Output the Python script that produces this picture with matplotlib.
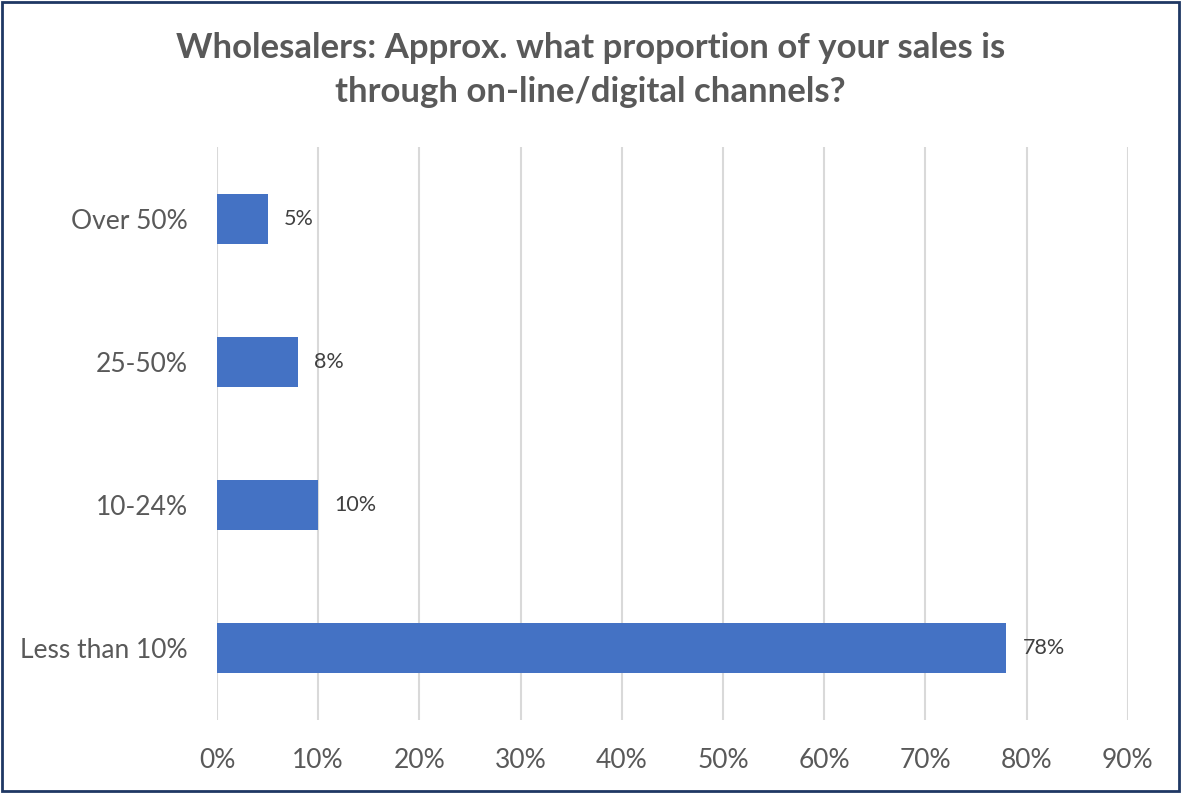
import matplotlib
matplotlib.use('Agg')
import matplotlib.pyplot as plt
from matplotlib.patches import Rectangle

# survey answers, bottom to top
categories = ['Less than 10%', '10-24%', '25-50%', 'Over 50%']
shares = [78, 10, 8, 5]
xticks = [0, 10, 20, 30, 40, 50, 60, 70, 80, 90]

plt.rcParams['font.family'] = ['Lato', 'DejaVu Sans']

fig = plt.figure(figsize=(11.81, 7.93), dpi=100)
ax = fig.add_axes([0.1837, 0.092, 0.7713, 0.7224])

ax.barh(range(len(categories)), shares, height=0.35, color='#4472C4', zorder=3)
for i, v in enumerate(shares):
    ax.text(v + 1.6, i, f'{v}%', va='center', ha='left', fontsize=15.5, color='#404040')

ax.set_xlim(0, 90)
ax.set_ylim(-0.5, len(categories) - 0.5)
ax.set_xticks(xticks)
ax.set_xticklabels([f'{t}%' for t in xticks])
ax.set_yticks(range(len(categories)))
ax.set_yticklabels(categories)
ax.tick_params(axis='x', length=0, pad=20, labelsize=19, labelcolor='#595959')
ax.tick_params(axis='y', length=0, pad=21, labelsize=19, labelcolor='#595959')
ax.xaxis.grid(True, color='#D9D9D9', linewidth=1.5, zorder=0)
for s in ax.spines.values():
    s.set_visible(False)

fig.text(0.5, 0.912, 'Wholesalers: Approx. what proportion of your sales is\nthrough on-line/digital channels?',
         ha='center', va='center', fontsize=25, fontweight='bold', color='#595959', linespacing=1.45)

# frame around the whole chart
fig.patches.append(Rectangle((0.002, 0.002), 0.996, 0.996, transform=fig.transFigure,
                             fill=False, edgecolor='#1F3864', linewidth=2))

fig.savefig('out.png', dpi=100)
